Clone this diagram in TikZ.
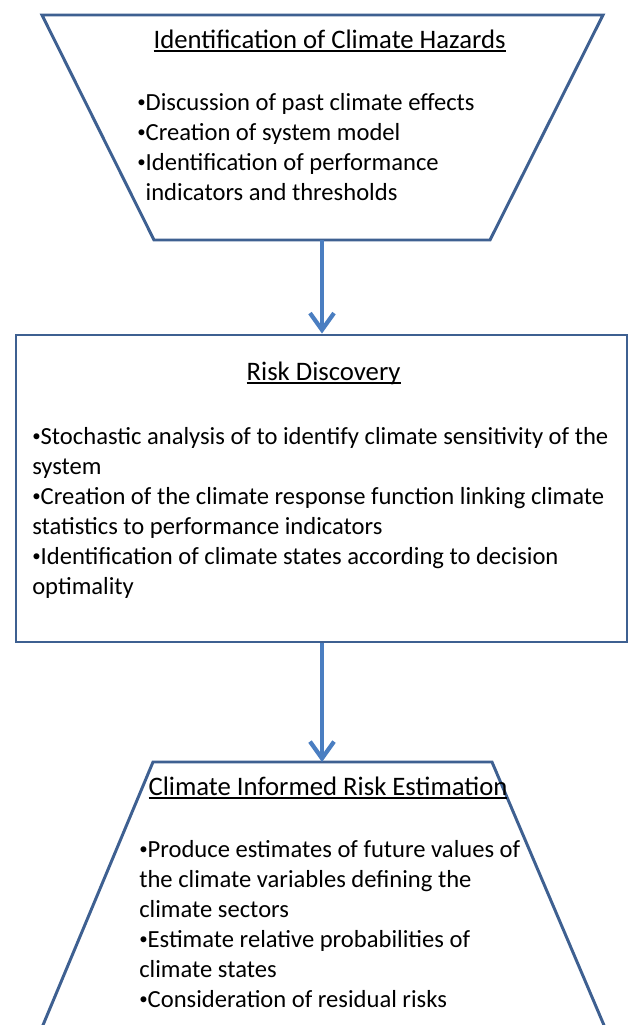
\documentclass[tikz,border=0pt]{standalone}
\usepackage{fontspec}
\setmainfont{Carlito}
\usetikzlibrary{arrows.meta}

\definecolor{edgeblue}{RGB}{62,96,145}
\definecolor{flowblue}{RGB}{74,126,193}
\newcommand{\titleline}[1]{\setbox0\hbox{#1}\rlap{\rule[-2.6pt]{\wd0}{0.9pt}}\box0}
\newcommand{\blt}{\raisebox{1.8pt}{\fontsize{12}{12}\selectfont•}}

\tikzset{
	outline/.style={draw=edgeblue, line width=2.1pt},
	flow/.style={draw=flowblue, line width=3pt, -{Straight Barb[length=0.42cm, width=0.6cm]}},
	heading/.style={anchor=base, inner sep=0pt, font=\fontsize{19}{23}\selectfont},
	bullets/.style={anchor=base west, inner sep=0pt, align=left, font=\fontsize{17.5}{21.34}\selectfont}
}

\begin{document}
\begin{tikzpicture}
	\useasboundingbox (0,0) rectangle (15.725,-25.625);
	\clip (0,0) rectangle (15.725,-25.625);
	\fill[white] (0,0) rectangle (15.725,-25.625);

	% hazards
	\draw[outline] (1.05,-0.375) -- (15.075,-0.375) -- (12.25,-6) -- (3.85,-6) -- cycle;
	\coordinate (hazards) at (8.05,-6);
	\node[heading] (hazTitle) at (8.24,-1.2) {\titleline{Identification of Climate Hazards}};
	% base of a list = baseline of its last line
	\node[bullets] (hazList) at (3.425,-5.0) {\blt Discussion of past climate effects\\\blt Creation of system model\\\blt Identification of performance\\\hphantom{\blt}indicators and thresholds};

	% discovery
	\node[outline, minimum width=15.275cm, minimum height=7.675cm, inner sep=0pt] (discovery) at (8.0375,-12.2125) {};
	\node[heading] (discTitle) at (8.09,-9.5) {\titleline{Risk Discovery}};
	\node[bullets] (discList) at (0.8,-14.85) {\blt Stochastic analysis of to identify climate sensitivity of the\\system\\\blt Creation of the climate response function linking climate\\statistics to performance indicators\\\blt Identification of climate states according to decision\\optimality};

	% estimation (runs off the page)
	\draw[outline] (0.95,-25.925) -- (3.825,-19.05) -- (12.3,-19.05) -- (15.225,-25.925);
	\coordinate (estimation) at (8.05,-19.05);
	\node[heading] (estTitle) at (8.2,-19.875) {\titleline{Climate Informed Risk Estimation}};
	\node[bullets] (estList) at (3.475,-25.18) {\blt Produce estimates of future values of\\the climate variables defining the\\climate sectors\\\blt Estimate relative probabilities of\\climate states\\\blt Consideration of residual risks};

	\draw[flow] (hazards) -- (hazards |- discovery.north);
	\draw[flow] (hazards |- discovery.south) -- (estimation);
\end{tikzpicture}
\end{document}
